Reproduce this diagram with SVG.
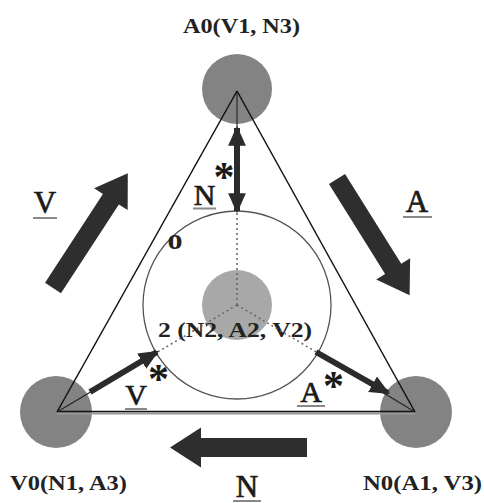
<svg xmlns="http://www.w3.org/2000/svg" width="484" height="503" viewBox="0 0 484 503">
<style>
.lbl{font-family:"Liberation Serif","DejaVu Serif",serif;font-weight:bold;fill:#222;}
.big{font-family:"Liberation Serif","DejaVu Serif",serif;fill:#1a1a1a;stroke:#1a1a1a;stroke-width:0.7;}
.ast{font-family:"Liberation Serif","DejaVu Serif",serif;font-weight:bold;fill:#1a1a1a;}
.edge{stroke:#111;stroke-width:1.5;fill:none;}
.thin{stroke:#222;stroke-width:1.1;fill:none;}
.dot{stroke:#666;stroke-width:1.5;stroke-dasharray:2 3;fill:none;}
.ul{stroke:#888;stroke-width:2;}
.star{stroke:#2b2b2b;stroke-width:6;fill:none;}
.vc{fill:#838383;}
</style>
<defs>
<path id="bigArrow" d="M0,-9.5 H106 V-20 L137,0 L106,20 V9.5 H0 Z" fill="#2e2e2e"/>
<marker id="ah" markerUnits="userSpaceOnUse" markerWidth="20" markerHeight="20" viewBox="0 0 18 18" refX="16" refY="9" orient="auto-start-reverse">
<path d="M0,1 L18,9 L0,17 Z" fill="#2b2b2b"/>
</marker>
</defs>

<g id="nodeA0">
<circle class="vc" cx="237" cy="89" r="35"/>
<text class="lbl" x="183" y="33" font-size="21" textLength="117" lengthAdjust="spacingAndGlyphs">A0(V1, N3)</text>
</g>
<g id="nodeV0">
<circle class="vc" cx="56" cy="412" r="36"/>
<text class="lbl" x="10" y="490" font-size="21" textLength="117" lengthAdjust="spacingAndGlyphs">V0(N1, A3)</text>
</g>
<g id="nodeN0">
<circle class="vc" cx="416" cy="412" r="36"/>
<text class="lbl" x="363" y="490" font-size="21" textLength="119" lengthAdjust="spacingAndGlyphs">N0(A1, V3)</text>
</g>

<g id="outerCircle">
<circle cx="237" cy="305" r="94" fill="none" stroke="#555" stroke-width="1.3"/>
<text class="lbl" x="175" y="249" font-size="30" text-anchor="middle">o</text>
</g>
<g id="center">
<circle cx="237" cy="305" r="35" fill="#a8a8a8"/>
<text class="lbl" x="158" y="337" font-size="21" textLength="154" lengthAdjust="spacingAndGlyphs">2 (N2, A2, V2)</text>
</g>

<g id="connectors">
<line class="edge" x1="237" y1="91" x2="57" y2="412"/>
<line class="edge" x1="237" y1="91" x2="415" y2="412"/>
<line x1="57" y1="413.5" x2="415" y2="413.5" stroke="#999" stroke-width="2"/>
<line class="edge" x1="57" y1="411.5" x2="415" y2="411.5"/>

<line class="dot" x1="237" y1="305" x2="237" y2="212"/>
<line class="dot" x1="237" y1="305" x2="156" y2="353"/>
<line class="dot" x1="237" y1="305" x2="318" y2="353"/>

<line class="thin" x1="237" y1="92" x2="237" y2="211"/>
<line class="thin" x1="57" y1="412" x2="156" y2="353"/>
<line class="thin" x1="318" y1="353" x2="415" y2="412"/>

<line class="star" x1="237" y1="128" x2="237" y2="211" marker-start="url(#ah)" marker-end="url(#ah)"/>
<line class="star" x1="90" y1="392" x2="157" y2="352" marker-end="url(#ah)"/>
<line class="star" x1="316" y1="352" x2="388" y2="393" marker-end="url(#ah)"/>

<use href="#bigArrow" transform="translate(53,288) rotate(-56.9)"/>
<use href="#bigArrow" transform="translate(337,179) rotate(58)"/>
<use href="#bigArrow" transform="translate(307,447.5) rotate(180)"/>
</g>

<g id="labels">
<text class="big" x="45" y="213" font-size="31" text-anchor="middle">V</text>
<line class="ul" x1="33" y1="218" x2="57" y2="218"/>
<text class="big" x="417" y="212" font-size="31" text-anchor="middle">A</text>
<line class="ul" x1="403" y1="217" x2="432" y2="217"/>
<text class="big" x="247" y="497" font-size="31" text-anchor="middle">N</text>
<line class="ul" x1="233" y1="501" x2="261" y2="501"/>

<text class="big" x="204.5" y="205" font-size="30" text-anchor="middle">N</text>
<line class="ul" x1="193" y1="208.5" x2="216" y2="208.5"/>
<text class="ast" x="224" y="191" font-size="42" text-anchor="middle">*</text>

<text class="big" x="136" y="405" font-size="30" text-anchor="middle">V</text>
<line class="ul" x1="125" y1="409" x2="147" y2="409"/>
<text class="ast" x="158.5" y="393" font-size="42" text-anchor="middle">*</text>

<text class="big" x="311" y="402" font-size="30" text-anchor="middle">A</text>
<line class="ul" x1="297" y1="406" x2="325" y2="406"/>
<text class="ast" x="333.5" y="400" font-size="42" text-anchor="middle">*</text>
</g>
</svg>
